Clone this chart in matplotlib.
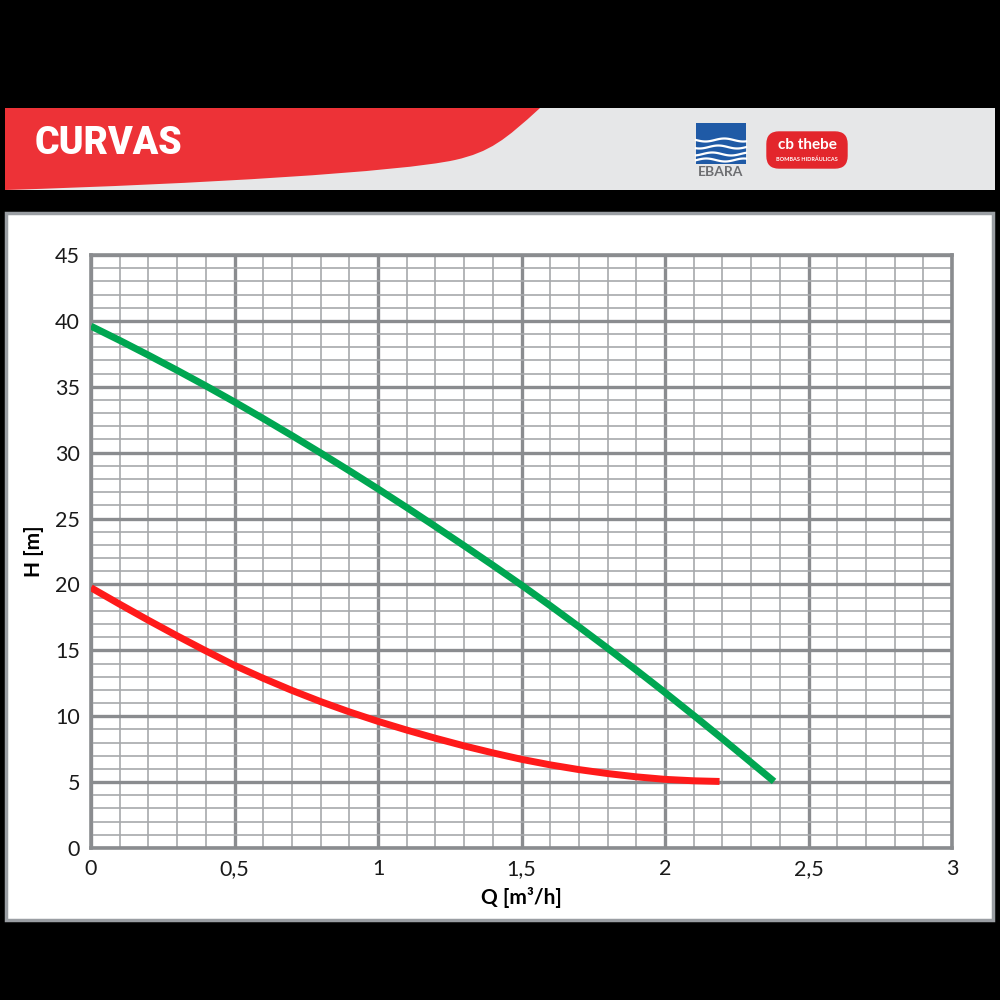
import matplotlib
matplotlib.use("Agg")
import matplotlib.pyplot as plt
from matplotlib.patches import Rectangle, PathPatch, FancyBboxPatch
from matplotlib.path import Path
import numpy as np

# ---- data ----
q_green = [0.0, 0.1, 0.2, 0.3, 0.4, 0.5, 0.6, 0.7, 0.8, 0.9, 1.0, 1.1, 1.2, 1.3,
           1.4, 1.5, 1.6, 1.7, 1.8, 1.9, 2.0, 2.1, 2.2, 2.3, 2.38]
h_green = [39.6, 38.52, 37.4, 36.25, 35.07, 33.85, 32.59, 31.3, 29.98, 28.63, 27.25,
           25.84, 24.4, 22.94, 21.46, 19.95, 18.39, 16.79, 15.16, 13.5, 11.8, 10.06,
           8.29, 6.49, 5.05]
q_red = [0.0, 0.1, 0.2, 0.3, 0.4, 0.5, 0.6, 0.7, 0.8, 0.9, 1.0, 1.1, 1.2, 1.3,
         1.4, 1.5, 1.6, 1.7, 1.8, 1.9, 2.0, 2.1, 2.19]
h_red = [19.75, 18.5, 17.28, 16.1, 14.96, 13.86, 12.88, 11.96, 11.11, 10.33, 9.61,
         8.95, 8.33, 7.75, 7.22, 6.73, 6.31, 5.95, 5.65, 5.4, 5.21, 5.1, 5.05]
x_ticks = [0, 0.5, 1, 1.5, 2, 2.5, 3]
x_labels = ["0", "0,5", "1", "1,5", "2", "2,5", "3"]
y_ticks = [0, 5, 10, 15, 20, 25, 30, 35, 40, 45]

FONT = ["Lato", "DejaVu Sans"]

fig = plt.figure(figsize=(10, 10), dpi=100, facecolor="black")
W, H = 1000, 1000

def fx(px):
    return np.asarray(px) / W

def fy(py):
    return 1 - np.asarray(py) / H

# header band
fig.patches.append(Rectangle((fx(5), fy(190)), fx(990), 82 / H, transform=fig.transFigure,
                             facecolor="#e6e7e8", edgecolor="none", zorder=0))
verts = [(5, 108), (540, 108),
         (505, 140), (490, 152), (455, 160),
         (400, 172), (200, 184), (5, 190),
         (5, 108)]
codes = [Path.MOVETO, Path.LINETO,
         Path.CURVE4, Path.CURVE4, Path.CURVE4,
         Path.CURVE4, Path.CURVE4, Path.CURVE4,
         Path.CLOSEPOLY]
verts = [(float(fx(a)), float(fy(b))) for a, b in verts]
fig.patches.append(PathPatch(Path(verts, codes), transform=fig.transFigure,
                             facecolor="#ed3237", edgecolor="none", zorder=1))
fig.text(fx(35), fy(143), "CURVAS", color="white", fontsize=27, fontweight="heavy",
         family=["Roboto", "DejaVu Sans"], va="center", ha="left", zorder=2)

# EBARA logo (simplified)
fig.patches.append(Rectangle((fx(696), fy(164)), 50 / W, 41 / H, transform=fig.transFigure,
                             facecolor="#1f5aa6", edgecolor="none", zorder=2))
for i, yy in enumerate([140, 147, 154, 160]):
    xs = np.linspace(696, 746, 40)
    ys = yy + 1.5 * np.sin((xs - 696) / 6 + i)
    fig.lines.append(plt.Line2D(fx(xs), fy(ys), transform=fig.transFigure, color="white", lw=1.6, zorder=3))
fig.text(fx(721), fy(172), "EBARA", color="#6d6e71", fontsize=10, fontweight="bold",
         family=FONT, ha="center", va="center")

# thebe logo (simplified)
fig.patches.append(FancyBboxPatch((fx(769), fy(166)), 76 / W, 32 / H, boxstyle="round,pad=0.002,rounding_size=0.012",
                                  transform=fig.transFigure, facecolor="#e3262c", edgecolor="#e3262c", zorder=2))
fig.text(fx(807), fy(145), "cb thebe", color="white", fontsize=11, fontweight="bold",
         family=FONT, ha="center", va="center", zorder=3)
fig.text(fx(807), fy(159), "BOMBAS HIDRÁULICAS", color="white", fontsize=4, fontweight="bold",
         family=FONT, ha="center", va="center", zorder=3)

# white panel
fig.patches.append(Rectangle((fx(6), fy(920)), 987 / W, 707 / H, transform=fig.transFigure,
                             facecolor="white", edgecolor="#9a9ea3", lw=2.5, zorder=0))

# plot axes
ax = fig.add_axes([fx(91), fy(848), (952 - 91) / W, (848 - 255) / H])
ax.set_zorder(5)
ax.set_xlim(0, 3)
ax.set_ylim(0, 45)
ax.set_facecolor("white")
ax.set_xticks(x_ticks)
ax.set_xticklabels(x_labels)
ax.set_yticks(y_ticks)
ax.set_xticks(np.arange(0, 3.01, 0.1), minor=True)
ax.set_yticks(np.arange(0, 45.1, 1), minor=True)
ax.grid(which="major", color="#8a8c8f", lw=2.4)
ax.grid(which="minor", color="#a7a9ac", lw=1.2)
ax.set_axisbelow(True)
for s in ax.spines.values():
    s.set_color("#8a8c8f")
    s.set_linewidth(2.6)
ax.tick_params(which="both", length=0, labelsize=15.5, colors="#1a1a1a", pad=8)
for lab in ax.get_xticklabels() + ax.get_yticklabels():
    lab.set_family(FONT)

ax.plot(q_green, h_green, color="#00a651", lw=5, solid_capstyle="butt",
        solid_joinstyle="round", zorder=3)
ax.plot(q_red, h_red, color="#ff1a1a", lw=5, solid_capstyle="butt",
        solid_joinstyle="round", zorder=3)

ax.set_xlabel("Q [m³/h]", fontsize=15, fontweight="bold", family=FONT, labelpad=6)
ax.set_ylabel("H [m]", fontsize=15, fontweight="bold", family=FONT, labelpad=8)

fig.savefig("out.png", dpi=100, facecolor="black")
